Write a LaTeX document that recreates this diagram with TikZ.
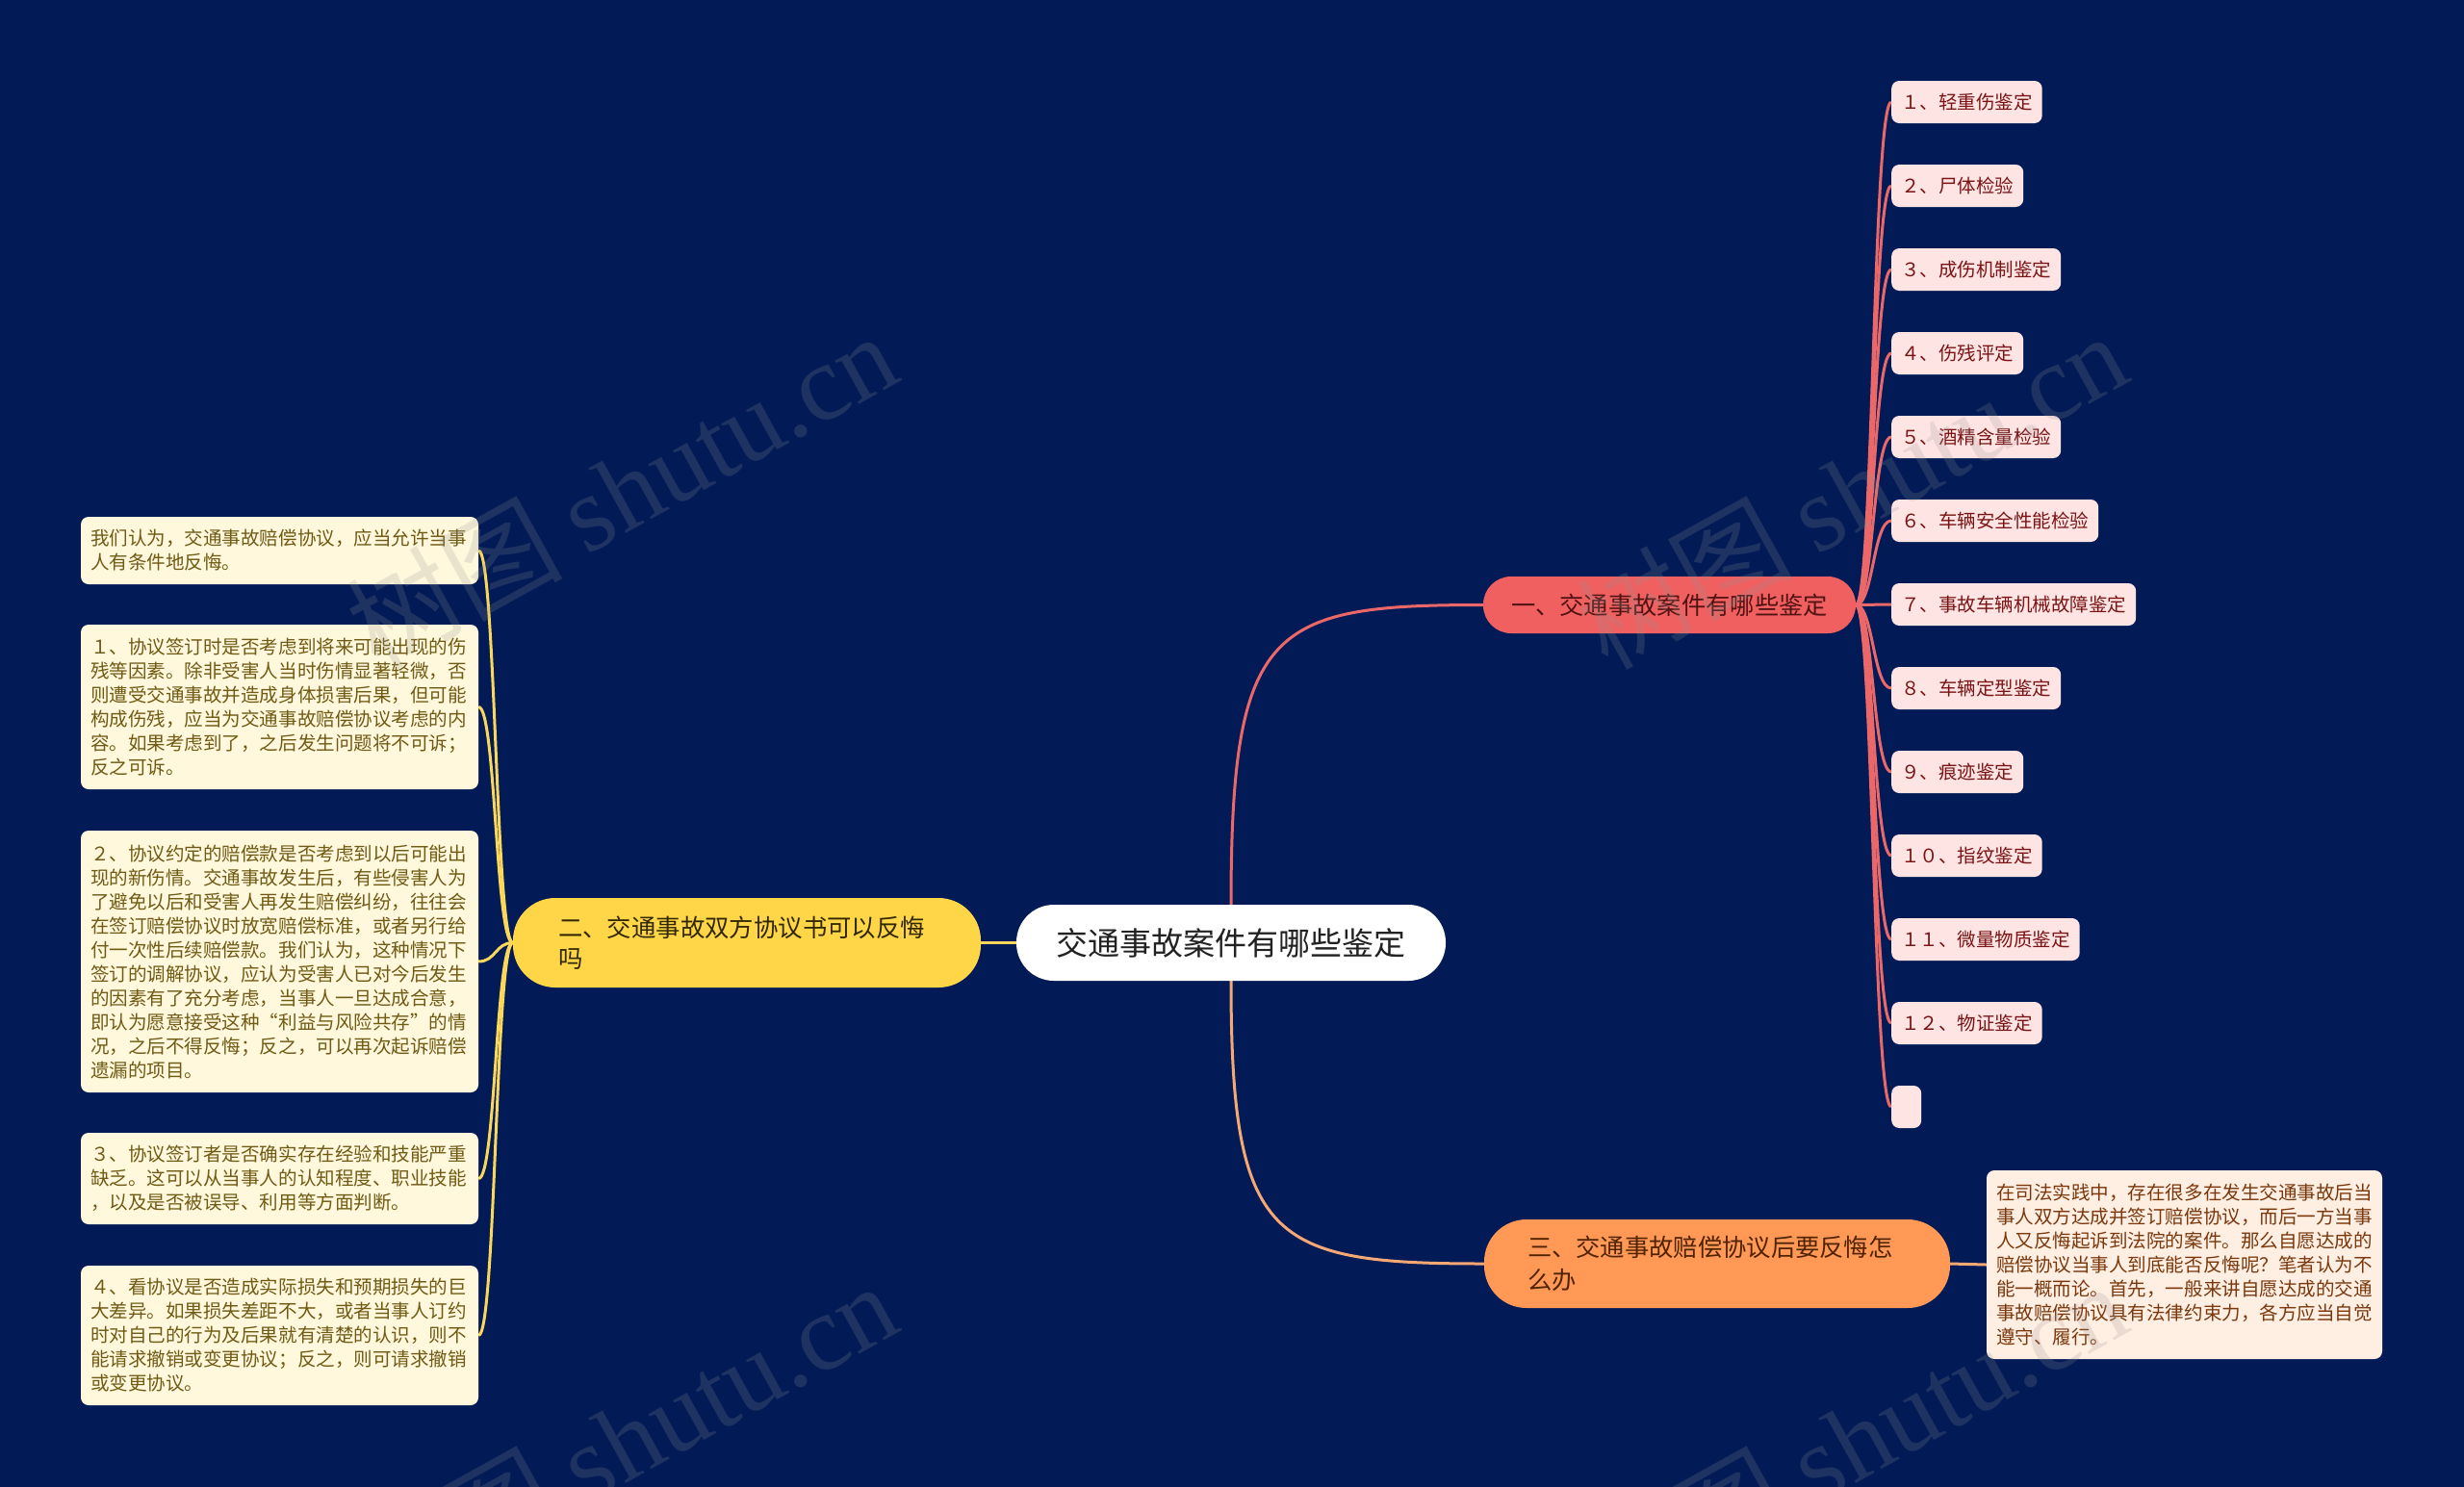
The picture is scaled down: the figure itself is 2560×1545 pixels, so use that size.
\documentclass[tikz,border=0pt]{standalone}
\usepackage{fontspec}
\setmainfont{Noto Sans CJK SC}
\newfontfamily\wmserif{Liberation Serif}
\usetikzlibrary{backgrounds}
\definecolor{bgc}{RGB}{2,27,87}
\definecolor{redfill}{RGB}{240,96,96}
\definecolor{redline}{RGB}{236,104,104}
\definecolor{redtext}{RGB}{80,18,18}
\definecolor{leaffill}{RGB}{255,228,228}
\definecolor{leaftext}{RGB}{122,20,20}
\definecolor{yelfill}{RGB}{255,214,72}
\definecolor{yelline}{RGB}{250,214,90}
\definecolor{yeltext}{RGB}{50,40,0}
\definecolor{lboxfill}{RGB}{255,248,220}
\definecolor{lboxtext}{RGB}{112,90,20}
\definecolor{orfill}{RGB}{255,153,85}
\definecolor{orline}{RGB}{245,168,115}
\definecolor{ortext}{RGB}{80,35,0}
\definecolor{orboxfill}{RGB}{255,238,226}
\definecolor{orboxtext}{RGB}{122,56,12}
\definecolor{roottext}{RGB}{34,34,34}
\tikzset{
  rootnode/.style={fill=white, rounded corners=39pt, minimum width=446pt, minimum height=79pt,
    inner sep=0pt, text=roottext, font=\fontsize{33}{40}\selectfont},
  rednode/.style={fill=redfill, rounded corners=29pt, minimum width=387pt, minimum height=59pt,
    inner sep=0pt, text=redtext, font=\fontsize{25.3}{32}\selectfont},
  yelnode/.style={fill=yelfill, rounded corners=44pt, minimum height=93pt, text width=392pt,
    inner xsep=47pt, inner ysep=0pt, align=left, text=yeltext, font=\fontsize{25.4}{32}\selectfont},
  ornode/.style={fill=orfill, rounded corners=44pt, minimum height=92pt, text width=394pt,
    inner xsep=45pt, inner ysep=0pt, align=left, text=ortext, font=\fontsize{25.3}{34}\selectfont},
  leaf/.style={fill=leaffill, rounded corners=8pt, minimum height=44pt, inner xsep=10pt,
    inner ysep=0pt, anchor=west, text=leaftext, font=\fontsize{19.5}{25}\selectfont},
  lbox/.style={fill=lboxfill, rounded corners=8pt, text width=393pt, inner xsep=10pt,
    inner ysep=0pt, align=left, text=lboxtext, font=\fontsize{19.55}{25}\selectfont},
  orbox/.style={fill=orboxfill, rounded corners=8pt, text width=391pt, inner xsep=10pt,
    inner ysep=0pt, align=left, text=orboxtext, font=\fontsize{19.55}{25}\selectfont},
  redc/.style={draw=redline, line width=3pt},
  yelc/.style={draw=yelline, line width=3pt},
  orc/.style={draw=orline, line width=3pt},
  wm/.style={text=gray!85, opacity=0.2, inner sep=0pt, font=\fontsize{112}{112}\selectfont}
}
\begin{document}
\begin{tikzpicture}[x=1pt,y=-1pt]
\begin{pgfonlayer}{background}
\fill[bgc] (0,0) rectangle (2560,1545);
\end{pgfonlayer}
\useasboundingbox (0,0) rectangle (2560,1545);

% main nodes
\node[rootnode] (root) at (1279,979.5) {交通事故案件有哪些鉴定};
\node[rednode] (n1) at (1734.5,628.5) {一、交通事故案件有哪些鉴定};
\node[yelnode] (n2) at (776,979.5) {二、交通事故双方协议书可以反悔\\吗};
\node[ornode] (n3) at (1784,1313) {三、交通事故赔偿协议后要反悔怎\\么办};

% leaves of n1
\node[leaf] (l1) at (1965,106) {１、轻重伤鉴定};
\node[leaf] (l2) at (1965,193) {２、尸体检验};
\node[leaf] (l3) at (1965,280) {３、成伤机制鉴定};
\node[leaf] (l4) at (1965,367) {４、伤残评定};
\node[leaf] (l5) at (1965,454) {５、酒精含量检验};
\node[leaf] (l6) at (1965,541) {６、车辆安全性能检验};
\node[leaf] (l7) at (1965,628) {７、事故车辆机械故障鉴定};
\node[leaf] (l8) at (1965,715) {８、车辆定型鉴定};
\node[leaf] (l9) at (1965,802) {９、痕迹鉴定};
\node[leaf] (l10) at (1965,889) {１０、指纹鉴定};
\node[leaf] (l11) at (1965,976) {１１、微量物质鉴定};
\node[leaf] (l12) at (1965,1063) {１２、物证鉴定};
\node[leaf, minimum width=31pt, inner xsep=0pt] (l13) at (1965,1150) {};

% boxes of n2
\node[lbox, minimum height=70pt] (b1) at (290.5,572) {我们认为，交通事故赔偿协议，应当允许当事\\人有条件地反悔。};
\node[lbox, minimum height=171pt] (b2) at (290.5,734.5) {１、协议签订时是否考虑到将来可能出现的伤\\残等因素。除非受害人当时伤情显著轻微，否\\则遭受交通事故并造成身体损害后果，但可能\\构成伤残，应当为交通事故赔偿协议考虑的内\\容。如果考虑到了，之后发生问题将不可诉；\\反之可诉。};
\node[lbox, minimum height=272pt] (b3) at (290.5,999) {２、协议约定的赔偿款是否考虑到以后可能出\\现的新伤情。交通事故发生后，有些侵害人为\\了避免以后和受害人再发生赔偿纠纷，往往会\\在签订赔偿协议时放宽赔偿标准，或者另行给\\付一次性后续赔偿款。我们认为，这种情况下\\签订的调解协议，应认为受害人已对今后发生\\的因素有了充分考虑，当事人一旦达成合意，\\即认为愿意接受这种“利益与风险共存”的情\\况，之后不得反悔；反之，可以再次起诉赔偿\\遗漏的项目。};
\node[lbox, minimum height=95pt] (b4) at (290.5,1224.5) {３、协议签订者是否确实存在经验和技能严重\\缺乏。这可以从当事人的认知程度、职业技能\\，以及是否被误导、利用等方面判断。};
\node[lbox, minimum height=145pt] (b5) at (290.5,1387.5) {４、看协议是否造成实际损失和预期损失的巨\\大差异。如果损失差距不大，或者当事人订约\\时对自己的行为及后果就有清楚的认识，则不\\能请求撤销或变更协议；反之，则可请求撤销\\或变更协议。};

% box of n3
\node[orbox, minimum height=196pt] (c1) at (2269.5,1314) {在司法实践中，存在很多在发生交通事故后当\\事人双方达成并签订赔偿协议，而后一方当事\\人又反悔起诉到法院的案件。那么自愿达成的\\赔偿协议当事人到底能否反悔呢？笔者认为不\\能一概而论。首先，一般来讲自愿达成的交通\\事故赔偿协议具有法律约束力，各方应当自觉\\遵守、履行。};

\begin{pgfonlayer}{background}
% root connectors
\draw[redc] (root.north) .. controls (1279,650) and (1320,628.5) .. (n1.west);
\draw[orc] (root.south) .. controls (1279,1290) and (1320,1313) .. (n3.west);
\draw[yelc] (root.west) -- (n2.east);
% n1 to leaves
\foreach \i in {1,...,13}{
  \draw[redc] (n1.east) .. controls ([xshift=18pt]n1.east) and ([xshift=-19pt]l\i.west) .. (l\i.west);
}
% n2 to boxes
\foreach \i in {1,...,5}{
  \draw[yelc] (n2.west) .. controls ([xshift=-18pt]n2.west) and ([xshift=18pt]b\i.east) .. (b\i.east);
}
% n3 to box
\draw[orc] (n3.east) -- (c1.west);
\end{pgfonlayer}

% watermarks
\node[wm, rotate=29] (w1) at (645,509) {树图 {\wmserif shutu.cn}};
\node[wm, rotate=29] (w2) at (1923,509) {树图 {\wmserif shutu.cn}};
\node[wm, rotate=29] (w3) at (645,1496) {树图 {\wmserif shutu.cn}};
\node[wm, rotate=29] (w4) at (1923,1496) {树图 {\wmserif shutu.cn}};
\end{tikzpicture}
\end{document}
